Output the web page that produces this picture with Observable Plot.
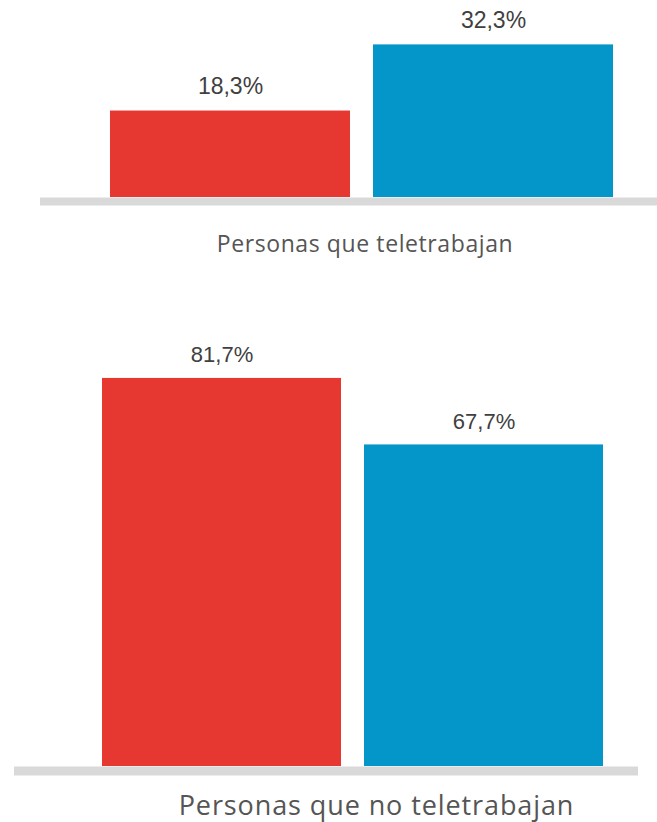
<!DOCTYPE html>
<html>
<head>
<meta charset="utf-8">
<script src="https://cdn.jsdelivr.net/npm/d3@7"></script>
<script src="https://cdn.jsdelivr.net/npm/@observablehq/plot@0.6"></script>
<style>
  html, body { margin: 0; padding: 0; background: #fff; }
  #wrap { position: relative; width: 657px; height: 822px; overflow: hidden; }
  .panel { position: absolute; left: 0; }
</style>
</head>
<body>
<div id="wrap">
  <div class="panel" id="top" style="top:0px"></div>
  <div class="panel" id="bottom" style="top:290px"></div>
</div>
<script>
const groups = ["A", "B"];
const colors = ["#e63730", "#0596c9"];
const teleValues = [18.3, 32.3];
const noTeleValues = [81.7, 67.7];
const panelTitles = ["Personas que teletrabajan", "Personas que no teletrabajan"];

const fmt = v => v.toFixed(1).replace(".", ",") + "%";

function panel({values, title, height, marginTop, marginBottom, marginLeft, marginRight, domainMax,
                ruleInsetLeft, ruleInsetRight, ruleWidth, labelDy, labelSize, titleDy, titleDx, titleSize, titleSpacing}) {
  const data = groups.map((g, i) => ({g, v: values[i], c: colors[i]}));
  const svg = Plot.plot({
    width: 657,
    height,
    marginTop, marginBottom, marginLeft, marginRight,
    x: {domain: groups, paddingInner: 0.0875, paddingOuter: 0, axis: null},
    y: {domain: [0, domainMax], axis: null},
    style: {background: "transparent"},
    marks: [
      Plot.barY(data, {x: "g", y: "v", fill: "c"}),
      Plot.ruleY([0], {stroke: "#d9d9d9", strokeWidth: ruleWidth, dy: ruleWidth / 2,
                       insetLeft: ruleInsetLeft, insetRight: ruleInsetRight}),
      Plot.text(data, {x: "g", y: "v", text: d => fmt(d.v), dy: labelDy,
                       fontSize: labelSize, fill: "#404040",
                       fontFamily: "Liberation Sans, Arial, sans-serif"}),
      Plot.text([title], {frameAnchor: "bottom", lineAnchor: "middle", text: d => d, dy: titleDy, dx: titleDx,
                          fontSize: titleSize, fill: "#555555",
                          fontFamily: "'Open Sans', Lato, sans-serif"})
    ]
  });
  d3.select(svg).selectAll("text")
    .filter(function() { return this.textContent === title; })
    .style("letter-spacing", titleSpacing + "px");
  return svg;
}

document.getElementById("top").appendChild(panel({
  values: teleValues, title: panelTitles[0],
  height: 270, marginTop: 8, marginBottom: 73, marginLeft: 110, marginRight: 44, domainMax: 40,
  ruleInsetLeft: -70, ruleInsetRight: -44, ruleWidth: 8,
  labelDy: -24, labelSize: 23, titleDy: 47, titleDx: 3, titleSize: 23, titleSpacing: 0.6
}));

document.getElementById("bottom").appendChild(panel({
  values: noTeleValues, title: panelTitles[1],
  height: 532, marginTop: 1, marginBottom: 56, marginLeft: 102, marginRight: 53, domainMax: 100,
  ruleInsetLeft: -88, ruleInsetRight: -34, ruleWidth: 9,
  labelDy: -23, labelSize: 22, titleDy: 39.5, titleDx: 23, titleSize: 27, titleSpacing: 0.9
}));
</script>
</body>
</html>
